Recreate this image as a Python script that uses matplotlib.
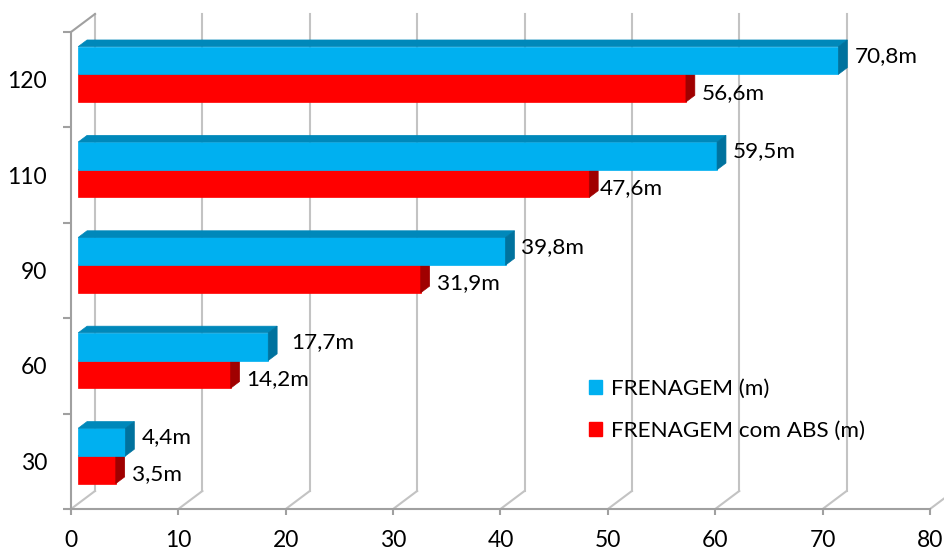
import matplotlib
matplotlib.use("Agg")
import matplotlib.pyplot as plt
from matplotlib.patches import Polygon, Patch

# data
speeds = ["30", "60", "90", "110", "120"]
frenagem = [4.4, 17.7, 39.8, 59.5, 70.8]
frenagem_abs = [3.5, 14.2, 31.9, 47.6, 56.6]
xticks = [0, 10, 20, 30, 40, 50, 60, 70, 80]
series_names = ["FRENAGEM (m)", "FRENAGEM com ABS (m)"]

plt.rcParams['font.family'] = ['Lato', 'DejaVu Sans']
FS = 16.2
FS_TICK = 16.5

BLUE = ("#00B0F0", "#0088BA", "#00729E")   # front, top, side
RED = ("#FF0000", "#C00000", "#A00000")
GRID = "#C3C3C3"
AXIS = "#A0A0A0"

fig = plt.figure(figsize=(9.44, 5.55), dpi=100)
W, H = 944, 555
ax = fig.add_axes([71 / W, 46 / H, 859 / W, 477 / H])
ax.set_xlim(0, 80)
ax.set_ylim(0, len(speeds))

# depth vector of the fake 3d box (in data units)
ux = 80 / 859.0
uy = len(speeds) / 477.0
DX, DY = 24 * ux, 18 * uy
F0, T = 0.30, 0.37     # bar front position and bar thickness (fraction of depth)
BH = 0.29              # height of each bar

for s in ["top", "right"]:
    ax.spines[s].set_visible(False)
for s in ["left", "bottom"]:
    ax.spines[s].set_color(AXIS)
    ax.spines[s].set_linewidth(1.5)

ax.set_xticks(xticks)
ax.set_xticklabels([str(t) for t in xticks], fontsize=FS_TICK)
ax.tick_params(axis='x', length=4, width=1.5, color=AXIS, pad=11)
ax.set_yticks(range(len(speeds) + 1))
ax.set_yticklabels([])
ax.tick_params(axis='y', which='major', length=6, width=1.5, color=AXIS)
ax.set_yticks([i + 0.5 for i in range(len(speeds))], minor=True)
ax.set_yticklabels(speeds, minor=True, fontsize=FS_TICK)
ax.tick_params(axis='y', which='minor', length=0, pad=24 * 0.72)

# floor diagonals and back wall gridlines
for t in xticks:
    ax.plot([t, t + DX], [0, DY], color=GRID, lw=1.5, clip_on=False, zorder=1)
    ax.plot([t + DX, t + DX], [DY, len(speeds) + DY], color=GRID, lw=1.5,
            clip_on=False, zorder=1)
ax.plot([0, DX], [len(speeds), len(speeds) + DY], color=AXIS, lw=1.5,
        clip_on=False, zorder=1)


def bar3d(v, y0, colors):
    x0 = F0 * DX
    x1 = v + F0 * DX
    y1 = y0 + BH
    tx, ty = T * DX, T * DY
    front = Polygon([(x0, y0), (x1, y0), (x1, y1), (x0, y1)], closed=True)
    top = Polygon([(x0, y1), (x1, y1), (x1 + tx, y1 + ty), (x0 + tx, y1 + ty)], closed=True)
    side = Polygon([(x1, y0), (x1, y1), (x1 + tx, y1 + ty), (x1 + tx, y0 + ty)], closed=True)
    for p, c in zip([front, top, side], colors):
        p.set_facecolor(c)
        p.set_edgecolor(c)
        p.set_linewidth(0.5)
        p.set_clip_on(False)
        p.set_zorder(3)
        ax.add_patch(p)
    return x1 + tx, y0 + BH / 2


# nudges of a few labels (pixels) as placed in the original
nudge = {(3, 1): -5, (1, 0): 7}

for i in range(len(speeds)):
    c = i + 0.5 + F0 * DY
    xr, yr = bar3d(frenagem_abs[i], c - BH, RED)
    xb, yb = bar3d(frenagem[i], c, BLUE)
    for (xe, ye, v, k, dy) in [(xr, yr, frenagem_abs[i], 1, -4.5), (xb, yb, frenagem[i], 0, 4.5)]:
        lab = ("%.1fm" % v).replace(".", ",")
        ax.annotate(lab, (xe, ye), xytext=(7 + nudge.get((i, k), 0), dy),
                    textcoords='offset pixels', ha='left', va='center',
                    fontsize=FS, annotation_clip=False, zorder=4)

handles = [Patch(facecolor=BLUE[0], edgecolor=BLUE[0]), Patch(facecolor=RED[0], edgecolor=RED[0])]
fig.legend(handles, series_names, loc='upper left', bbox_to_anchor=(589 / W, 1 - 379 / H),
           frameon=False, fontsize=FS, handlelength=0.58, handleheight=0.58,
           handletextpad=0.4, labelspacing=0.98, borderpad=0, borderaxespad=0)

fig.savefig("out.png", dpi=100)
